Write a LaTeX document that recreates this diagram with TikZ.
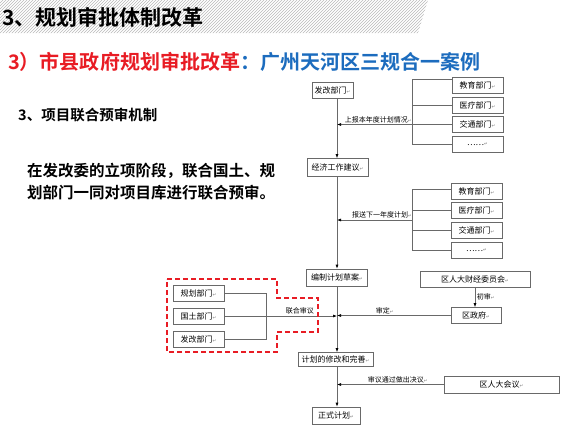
\documentclass[tikz,border=0pt]{standalone}
\usepackage{fontspec}
\setmainfont{Noto Sans CJK SC}[BoldFont={Noto Sans CJK SC Bold}]
\newfontfamily\symfont{DejaVu Sans}
\usetikzlibrary{arrows.meta,patterns}
\definecolor{titlered}{RGB}{232,28,36}
\definecolor{titleblue}{RGB}{28,108,190}
\definecolor{linegray}{RGB}{105,105,105}
\newcommand{\ret}{{\symfont\fontsize{4.5}{5}\selectfont\color{gray}↵}}

\begin{document}
\begin{tikzpicture}[
  x=1pt, y=-1pt,
  box/.style={draw=linegray, line width=0.6pt, fill=white, inner sep=0pt,
    minimum height=16pt, font=\fontsize{8}{8.5}\selectfont},
  dept/.style={box, minimum width=51pt},
  lbl/.style={font=\fontsize{7}{7.5}\selectfont, inner sep=1.5pt},
  link/.style={draw=linegray, line width=0.6pt},
  flow/.style={link, -{Latex[length=4pt,width=3pt,color=black]}},
  jointline/.style={draw=titlered, line width=1.6pt, dash pattern=on 5pt off 3pt}
]
\useasboundingbox (0,0) rectangle (575,429);

\fill[pattern=north east lines, pattern color=gray!55]
  (0,0) -- (428,0) -- (418,33) -- (0,33) -- cycle;
\node[anchor=west, inner sep=0pt, font=\fontsize{21}{21}\selectfont\bfseries]
  (title) at (2,17) {3、规划审批体制改革};
\node[anchor=west, inner sep=0pt, font=\fontsize{20}{20}\selectfont\bfseries]
  (subtitle) at (8,62)
  {\textcolor{titlered}{3）市县政府规划审批改革}\textcolor{titleblue}{：广州天河区三规合一案例}};
\node[anchor=west, inner sep=0pt, font=\fontsize{14.5}{15}\selectfont\bfseries]
  (mechanism) at (18,115) {3、项目联合预审机制};
\node[anchor=west, inner sep=0pt, align=left, font=\fontsize{15.5}{22}\selectfont\bfseries]
  (intro) at (27,182) {在发改委的立项阶段，联合国土、规\\划部门一同对项目库进行联合预审。};

\coordinate (spine) at (337,0);
\coordinate (forkA) at (412,0);
\coordinate (forkB) at (412,220);
\coordinate (forkC) at (266,0);

\node[box, minimum width=41pt] (fagai) at (332.5,90.5) {发改部门\ret};
\node[box, minimum width=61pt, minimum height=18pt] (jingji) at (337.5,167.5) {经济工作建议\ret};
\node[box, minimum width=61pt, minimum height=17pt] (bianzhi) at (337,277.5) {编制计划草案\ret};
\node[box, minimum width=75pt, minimum height=14pt] (xiugai) at (335.5,359.5) {计划的修改和完善\ret};
\node[box, minimum width=48pt, minimum height=17pt] (zhengshi) at (336,415.5) {正式计划\ret};

\node[dept] (jyA) at (477.5,85) {教育部门\ret};
\node[dept] (ylA) at (477.5,105) {医疗部门\ret};
\node[dept] (jtA) at (477.5,124.5) {交通部门\ret};
\node[dept] (etcA) at (477.5,144) {……\ret};

\node[dept] (jyB) at (476.5,191) {教育部门\ret};
\node[dept] (ylB) at (476.5,210.5) {医疗部门\ret};
\node[dept] (jtB) at (476.5,230.5) {交通部门\ret};
\node[dept] (etcB) at (476.5,250) {……\ret};

\node[dept] (gh) at (198.5,293.5) {规划部门\ret};
\node[dept] (gt) at (198.5,316) {国土部门\ret};
\node[dept] (fg) at (198.5,339) {发改部门\ret};

\node[box, minimum width=110pt] (caijing) at (475,279) {区人大财经委员会\ret};
\node[box, minimum width=50pt] (zhengfu) at (476,315.5) {区政府\ret};
\node[box, minimum width=115pt, minimum height=17pt] (renda) at (501.5,384.5) {区人大会议\ret};

\draw[flow] (fagai.south -| spine) -- (jingji.north -| spine);
\draw[flow] (jingji.south -| spine) -- (bianzhi.north -| spine);
\draw[flow] (bianzhi.south -| spine) -- (xiugai.north -| spine);
\draw[flow] (xiugai.south -| spine) -- (zhengshi.north -| spine);

\draw[link] ([yshift=-3pt]jyA.north west) -| (forkA |- etcA.west) -- (etcA.west);
\draw[link] (ylA.west) -- (ylA.west -| forkA);
\draw[link] (jtA.west) -- (jtA.west -| forkA);
\draw[flow] (jtA.west -| forkA) -- (jtA.west -| spine)
  node[lbl, pos=0.45, above] {上报本年度计划情况\ret};

\draw[link] ([yshift=2pt]jyB.west) -| (forkB |- etcB.west) -- (etcB.west);
\draw[link] (ylB.west) -- (ylB.west -| forkB);
\draw[link] (jtB.west) -- (jtB.west -| forkB);
\draw[flow] (forkB) -- (forkB -| spine)
  node[lbl, pos=0.4, above] {报送下一年度计划\ret};

\draw[link] (gh.east) -| (forkC |- fg.east) -- (fg.east);
\draw[flow] (gt.east) -- (gt.east -| spine)
  node[lbl, pos=0.67, above] {联合审议};

\draw[flow] (caijing.south) -- (caijing.south |- zhengfu.north)
  node[lbl, midway, right] {初审\ret};
\draw[flow] (zhengfu.west) -- (zhengfu.west -| spine)
  node[lbl, pos=0.58, above] {审定\ret};
\draw[flow] (renda.west) -- (renda.west -| spine)
  node[lbl, pos=0.43, above] {审议通过做出决议\ret};

\draw[jointline] (167,279) -- (277,279) -- (277,298) -- (318,298) -- (318,332)
  -- (277,332) -- (277,352) -- (167,352) -- cycle;
\end{tikzpicture}
\end{document}
